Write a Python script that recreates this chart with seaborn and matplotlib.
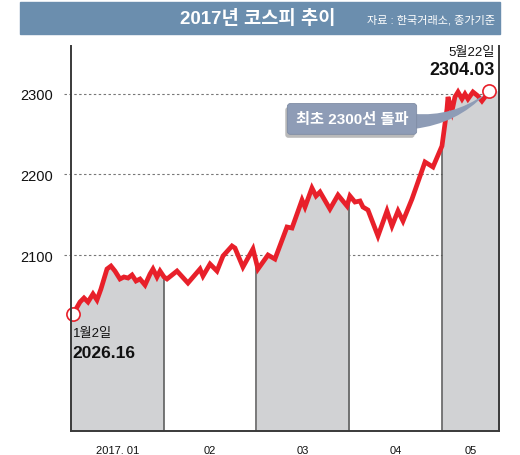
import numpy as np
import pandas as pd
import matplotlib
matplotlib.use("Agg")
import matplotlib.pyplot as plt
import matplotlib.patheffects as pe
import seaborn as sns

# ---- data (x = position in months since Jan 1, each month equal width) ----
month_pos = [0.02, 0.097, 0.140, 0.183, 0.237, 0.280, 0.323, 0.388, 0.431, 0.474,
             0.528, 0.571, 0.615, 0.658, 0.701, 0.744, 0.798, 0.852, 0.884, 0.927,
             0.960, 1.003,
             1.035, 1.143, 1.261, 1.391, 1.423, 1.499, 1.574, 1.639, 1.736, 1.768,
             1.854, 1.962, 2.016,
             2.124, 2.199, 2.329, 2.383, 2.491, 2.523, 2.598, 2.642, 2.685, 2.792,
             2.879, 2.976, 3.008,
             3.062, 3.116, 3.148, 3.202, 3.310, 3.407, 3.461, 3.526, 3.580, 3.677,
             3.817, 3.903, 4.000,
             4.054, 4.065, 4.108, 4.140, 4.173, 4.216, 4.248, 4.280, 4.334, 4.388,
             4.431, 4.464, 4.507]
kospi = [2026.16, 2041.6, 2046.6, 2041.6, 2051.6, 2044.1, 2057.8, 2082.6, 2086.3, 2080.1,
         2070.2, 2072.7, 2071.4, 2075.2, 2067.7, 2070.2, 2062.7, 2076.4, 2082.6, 2072.7,
         2080.1, 2072.7,
         2070.2, 2080.1, 2065.2, 2082.6, 2073.9, 2088.8, 2080.1, 2098.8, 2111.2, 2108.7,
         2085.1, 2107.5, 2082.6,
         2100.0, 2095.0, 2134.8, 2133.5, 2168.3, 2159.6, 2183.2, 2173.3, 2178.3, 2157.1,
         2174.5, 2160.9, 2173.3,
         2165.8, 2167.1, 2159.6, 2155.9, 2123.6, 2154.7, 2136.0, 2154.7, 2142.2, 2169.6,
         2215.5, 2209.3, 2235.4,
         2281.4, 2296.3, 2278.9, 2296.3, 2302.5, 2293.8, 2300.0, 2293.8, 2302.5, 2297.5,
         2291.3, 2296.3, 2304.03]
month_edges = [0, 1, 2, 3, 4, 4.615]
month_labels = ["2017. 01", "02", "03", "04", "05"]
shaded_months = [0, 2, 4]
y_ticks = [2100, 2200, 2300]
title = "2017년 코스피 추이"
source = "자료 : 한국거래소, 종가기준"
start_label, start_value = "1월2일", "2026.16"
end_label, end_value = "5월22일", "2304.03"
callout = "최초 2300선 돌파"

df = pd.DataFrame({"month": month_pos, "kospi": kospi})

sns.set_theme(style="white")
plt.rcParams["font.family"] = ["Liberation Sans", "Noto Sans CJK KR", "DejaVu Sans"]

RED = "#e8202a"
FILL = "#d1d2d4"
BANNER = "#6b8eae"
EDGE = "#3a3a3a"
CALL = "#8e9cb6"

fig = plt.figure(figsize=(5.2, 4.56), dpi=100)
ax = fig.add_axes([71/520, 1 - 432/456, (499-71)/520, (432-47)/456])
ymin, ymax = 1881.4, 2359.6
ax.set_xlim(month_edges[0], month_edges[-1])
ax.set_ylim(ymin, ymax)

# grid lines (dashed)
for yt in y_ticks:
    ax.plot([-0.08, month_edges[-1]], [yt, yt], ls=(0, (2.2, 2.2)), color="#777777",
            lw=0.8, zorder=1, clip_on=False)

# shaded months: fill under line
xs = np.array(month_pos)
ys = np.array(kospi)
for mi in shaded_months:
    a, b = month_edges[mi], month_edges[mi + 1]
    xx = np.concatenate([[a], xs[(xs > a) & (xs < b)], [b]])
    yy = np.interp(xx, xs, ys)
    ax.fill_between(xx, ymin, yy, color=FILL, lw=0, zorder=2)

# month boundary lines up to the line
for e in month_edges[1:-1]:
    ax.plot([e, e], [ymin, np.interp(e, xs, ys)], color="#555555", lw=1.1, zorder=3)

sns.lineplot(data=df, x="month", y="kospi", color=RED, lw=3.4, ax=ax, zorder=5,
             solid_joinstyle="miter", solid_capstyle="butt")

# start / end markers
ax.plot(month_pos[0], kospi[0], "o", ms=9.5, mfc="white", mec=RED, mew=1.2, zorder=7,
        clip_on=False)
ax.plot(month_pos[-1], kospi[-1], "o", ms=9.5, mfc="white", mec=RED, mew=1.2, zorder=9,
        clip_on=False)

# spines
ax.spines["top"].set_visible(False)
for s in ["left", "right", "bottom"]:
    ax.spines[s].set_visible(True)
    ax.spines[s].set_color(EDGE)
    ax.spines[s].set_linewidth(1.4)
    ax.spines[s].set_zorder(8)

ax.set_yticks(y_ticks)
ax.set_yticklabels([str(v) for v in y_ticks], fontsize=10.5, color="#111111")
centers = [(month_edges[i] + month_edges[i + 1]) / 2 for i in range(len(month_labels))]
ax.set_xticks(centers)
ax.set_xticklabels(month_labels, fontsize=8, color="#111111")
ax.tick_params(axis="y", length=0, pad=13)
ax.tick_params(axis="x", length=0, pad=10)
ax.set_xlabel("")
ax.set_ylabel("")

# start / end annotations
ax.annotate(start_label, (month_pos[0], kospi[0]), xytext=(0, -9), textcoords="offset points",
            ha="left", va="top", fontsize=9.5, color="#111111", zorder=10)
ax.annotate(start_value, (month_pos[0], kospi[0]), xytext=(0, -22), textcoords="offset points",
            ha="left", va="top", fontsize=12.5, fontweight="bold", color="#111111", zorder=10)
ax.text(0.99, 2352, end_label, transform=ax.get_yaxis_transform(), ha="right", va="center",
        fontsize=9.5, color="#111111")
ax.text(0.99, 2330, end_value, transform=ax.get_yaxis_transform(), ha="right", va="center",
        fontsize=13, fontweight="bold", color="#111111")

# callout tail
ax.annotate("", xy=(month_pos[-1] - 0.04, kospi[-1] - 4), xytext=(3.70, 2266),
            arrowprops=dict(arrowstyle="wedge,tail_width=0.9,shrink_factor=0.5",
                            connectionstyle="arc3,rad=0.18", fc=CALL, ec="none",
                            shrinkA=0, shrinkB=0), zorder=8)
# callout box with drop shadow
t = ax.text(3.03, 2269, callout, ha="center", va="center", fontsize=11, fontweight="bold",
            color="white", zorder=9,
            bbox=dict(boxstyle="round,pad=0.55,rounding_size=0.2", fc=CALL, ec="#7f8ca4",
                      lw=0.6))
t.get_bbox_patch().set_path_effects([
    pe.SimplePatchShadow(offset=(-1.5, -2.5), shadow_rgbFace="#777777", alpha=0.5),
    pe.Normal()])

# header banner
fig.patches.append(plt.Rectangle((20/520, 1 - 35/456), 480/520, 32/456,
                                 transform=fig.transFigure, color=BANNER, zorder=0))
fig.text(258/520, 1 - 19/456, title, ha="center", va="center", fontsize=13.5,
         fontweight="bold", color="white")
fig.text(495/520, 1 - 20/456, source, ha="right", va="center", fontsize=8, color="white")

fig.savefig("out.png", dpi=100)
